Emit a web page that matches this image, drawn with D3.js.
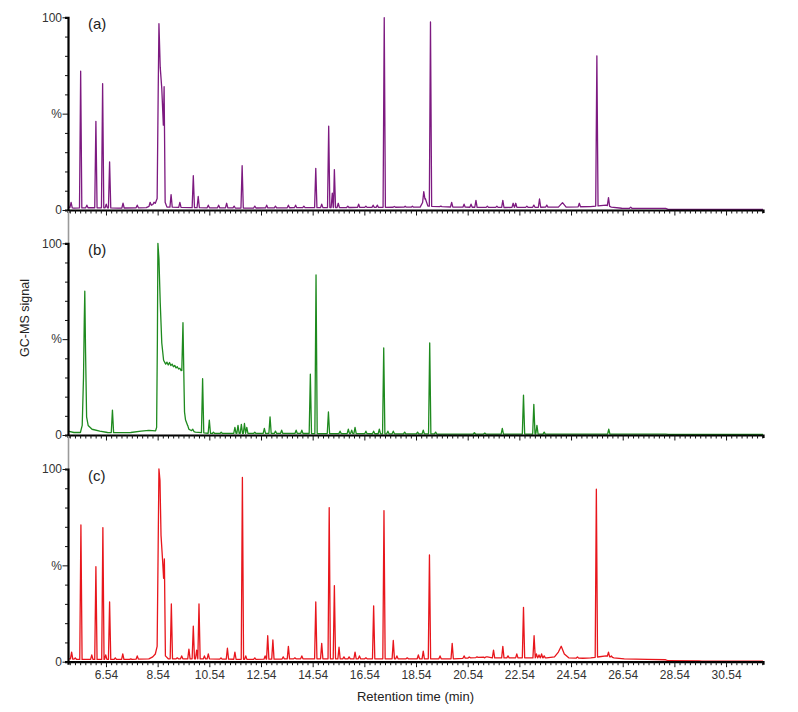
<!DOCTYPE html>
<html>
<head>
<meta charset="utf-8">
<script src="https://cdn.jsdelivr.net/npm/d3@7"></script>
<style>
  body { margin: 0; background: #fff; }
  text { font-family: "Liberation Sans", Arial, sans-serif; }
</style>
</head>
<body>
<div id="chart"></div>
<script>
// ---------------- DATA ----------------
const panelLabels = ["(a)", "(b)", "(c)"];
const seriesColors = ["#7d1a80", "#1e8a1e", "#e8161c"];
const xTickLabels = ["6.54","8.54","10.54","12.54","14.54","16.54","18.54","20.54","22.54","24.54","26.54","28.54","30.54"];
const yTickLabels = { 0: "0", 50: "%", 100: "100" };
const xAxisTitle = "Retention time (min)";
const yAxisTitle = "GC-MS signal";

// Baseline / broad-feature profiles, [time (min), relative signal %]
const profileA = [[5.07,1.5],[5.3,1],[6,1.2],[7,1],[8.1,1.2],[8.3,2.5],[8.45,3.5],[8.52,6],[8.56,60],[8.59,96.7],[8.64,74],[8.70,63],[8.76,44],[8.79,64],[8.83,4],[8.9,1.5],[10,1.2],[12,1],[14,1.2],[16,1.3],[18.7,1.5],[18.8,4],[18.9,6],[19.0,2],[20,1.5],[22,1.3],[24.05,1.5],[24.21,3.8],[24.35,1.5],[25.3,1.8],[25.9,2.5],[26.1,1.5],[26.5,0.9],[28.2,0.8],[28.3,0.3],[31.97,0.3]];
const peaksA = [[5.19,4],[5.56,72],[5.8,2.5],[6.15,46],[6.41,65.6],[6.55,3],[6.68,25],[7.2,3.5],[7.75,2.5],[8.25,4],[8.4,4],[9.06,8],[9.4,4],[9.92,17.8],[10.11,7],[10.5,2.5],[10.9,2.5],[11.21,3.5],[11.5,2],[11.81,23],[12.3,2],[12.76,2.5],[13.1,2],[13.6,2.5],[13.88,2.5],[14.2,2],[14.66,21.6],[14.89,3],[15.16,43.5],[15.3,8.8],[15.38,21],[15.53,3.5],[15.9,2],[16.32,3],[16.6,2],[16.88,2.5],[17.04,2.5],[17.31,99.8],[17.7,1.8],[18.12,2],[18.4,2],[18.84,9.5],[19.1,97.6],[19.5,2],[19.92,4],[20.4,3],[20.67,3],[20.86,5],[21.3,2],[21.67,2],[21.9,5],[22.3,3.5],[22.4,3.5],[22.83,2],[23.1,2.5],[23.32,5.7],[23.6,2.5],[24.86,3.5],[25.54,80],[25.99,6.4],[26.85,1.5]];

const profileB = [[5.07,2],[5.3,1.3],[5.55,1.3],[5.62,5],[5.67,30],[5.70,60],[5.72,75],[5.75,43],[5.79,9.5],[5.85,5],[6.0,3],[6.3,2],[6.6,1.3],[7.0,1.2],[7.5,1.3],[7.9,2],[8.2,2.4],[8.46,2.2],[8.50,4],[8.53,50],[8.55,100],[8.59,92],[8.64,69],[8.70,48],[8.77,39],[8.85,37],[8.9,38],[8.95,36.5],[9.0,37.8],[9.05,36.2],[9.1,37],[9.15,35.6],[9.2,36.3],[9.25,35],[9.3,35.6],[9.35,34.4],[9.4,34.8],[9.45,33.6],[9.5,33.8],[9.55,33],[9.58,12],[9.62,7.8],[9.7,5],[9.8,2.6],[10.0,1.5],[10.6,0.8],[12,0.8],[14,0.8],[16,0.7],[18,0.6],[20,0.5],[23,0.5],[26.5,0.5],[28.2,0.5],[28.3,0.3],[31.97,0.3]];
const peaksB = [[6.79,13],[9.52,58.6],[9.75,3],[9.9,3],[10.28,29.4],[10.54,7.8],[10.7,1.5],[11.0,1.5],[11.53,4],[11.65,5],[11.78,5.5],[11.9,6],[11.99,4],[12.3,1.5],[12.67,3.5],[12.89,9.5],[13.1,2],[13.34,2.5],[13.9,2.5],[14.12,2.5],[14.45,31.7],[14.67,83.5],[15.15,12],[15.6,2],[15.92,3],[16.05,2.5],[16.18,4],[16.6,2],[16.9,2],[17.12,3],[17.29,45.4],[17.45,2],[17.66,2],[18.1,1.5],[18.6,1.5],[18.82,2.5],[19.07,48],[19.3,1.5],[20.8,1.2],[21.2,1],[21.88,3.5],[22.7,20.8],[23.1,16],[23.22,5],[23.5,1.5],[26.0,3]];

const profileC = [[5.07,1.5],[5.5,1.2],[6.5,1.2],[7.5,1.2],[8.2,1.5],[8.35,2.5],[8.45,4],[8.52,8],[8.56,60],[8.59,100],[8.63,94],[8.67,65.7],[8.73,52.8],[8.77,43.3],[8.80,53.3],[8.84,3],[8.95,1.5],[10,1.5],[12,1.2],[14,1.5],[16,1.5],[18,1.5],[20,1.5],[21.3,2.5],[21.5,2],[22,2],[23.6,2],[23.9,2.5],[24.05,5],[24.16,8],[24.28,4],[24.45,2],[25,1.8],[25.3,2],[25.9,3],[26.2,2],[26.6,1.5],[27.5,1.2],[28.2,1],[28.3,0.5],[29.5,0.4],[29.6,0.3],[31.97,0.3]];
const peaksC = [[5.21,5],[5.35,2],[5.57,71],[5.99,3.5],[6.15,49.3],[6.42,69.6],[6.53,3.5],[6.68,31],[6.9,2],[7.19,4],[7.5,1.5],[7.75,3],[9.07,30],[9.3,2],[9.47,3],[9.75,6.5],[9.92,18.5],[10.05,6],[10.14,30],[10.35,3],[10.5,4],[10.99,2],[11.24,7],[11.53,5],[11.82,95.7],[11.95,3],[12.3,2],[12.7,3],[12.8,13.5],[13.0,11.3],[13.4,2.5],[13.6,8],[13.85,2],[14.12,3],[14.66,31],[14.89,9.5],[15.18,80],[15.38,39.5],[15.56,7.5],[15.75,2.5],[15.95,2.5],[16.18,5],[16.35,3],[16.6,2],[16.9,29],[17.3,78.4],[17.66,11],[17.8,3],[18.2,2],[18.63,3.5],[18.82,5.5],[19.06,55.4],[19.47,3],[19.94,9.5],[20.4,3],[20.6,2.5],[20.9,2.5],[21.2,2],[21.54,6],[21.9,8],[22.1,3],[22.44,4],[22.7,28.2],[23.11,13.5],[23.2,4],[23.3,3.5],[23.4,4],[23.5,3],[24.79,2.5],[25.52,89.5],[25.99,5],[26.1,3]];

const profiles = [profileA, profileB, profileC];
const peakLists = [peaksA, peaksB, peaksC];

// ---------------- LAYOUT ----------------
const W = 798, H = 712;
const xLeft = 68, xRight = 763;
const panels = [
  { y0: 210, y100: 17.3 },
  { y0: 435, y100: 243.3 },
  { y0: 661.7, y100: 469 }
];
const peakHalfWidth = 0.045;

const svg = d3.select("#chart").append("svg")
  .attr("width", W).attr("height", H)
  .style("display", "block");

const x = d3.scaleLinear().domain([5.07, 31.97]).range([xLeft, xRight]);

const xTicks = d3.range(0, 200).map(i => +(5.14 + i * 0.2).toFixed(2)).filter(t => t <= 31.96);
const isMajor = t => xTickLabels.includes(t.toFixed(2));

function buildTrace(profile, peaks, w) {
  const interp = t => {
    for (let i = 0; i < profile.length - 1; i++) {
      const a = profile[i], b = profile[i + 1];
      if (t >= a[0] && t <= b[0]) return a[1] + (b[1] - a[1]) * (t - a[0]) / (b[0] - a[0]);
    }
    return profile[profile.length - 1][1];
  };
  const pts = profile.filter(p => !peaks.some(k => p[0] > k[0] - w && p[0] < k[0] + w)).map(p => p.slice());
  peaks.forEach(k => {
    pts.push([k[0] - w, interp(k[0] - w)], [k[0], k[1]], [k[0] + w, interp(k[0] + w)]);
  });
  pts.sort((a, b) => a[0] - b[0]);
  return pts;
}

panels.forEach((p, i) => {
  const y = d3.scaleLinear().domain([0, 100]).range([p.y0, p.y100]);
  const g = svg.append("g");

  // connector (grey) line from previous panel's axis
  if (i > 0) {
    g.append("line")
      .attr("x1", xLeft + 0.5).attr("x2", xLeft + 0.5)
      .attr("y1", panels[i - 1].y0 + 1).attr("y2", p.y100)
      .attr("stroke", "#9a9a9a").attr("stroke-width", 1.6);
  }

  // trace
  const data = buildTrace(profiles[i], peakLists[i], peakHalfWidth);
  g.append("path")
    .datum(data)
    .attr("fill", "none")
    .attr("stroke", seriesColors[i])
    .attr("stroke-width", 1.3)
    .attr("stroke-linejoin", "round")
    .attr("d", d3.line().x(d => x(d[0])).y(d => y(d[1])));

  // x axis
  const xa = d3.axisBottom(x)
    .tickValues(xTicks)
    .tickSizeOuter(0)
    .tickSize(3)
    .tickPadding(4)
    .tickFormat(t => (i === 2 && isMajor(t)) ? t.toFixed(2) : "");
  const gx = g.append("g").attr("transform", `translate(0,${p.y0})`).call(xa);
  gx.select(".domain").attr("stroke", "#000").attr("stroke-width", 2.2);
  gx.selectAll(".tick line").attr("stroke", "#111").attr("stroke-width", 1)
    .attr("y2", t => isMajor(t) ? 5.5 : 3.5);
  gx.selectAll(".tick text").attr("font-size", "12px").attr("fill", "#333").attr("y", 9);

  // y axis
  const ya = d3.axisLeft(y)
    .tickValues(d3.range(0, 101, 10))
    .tickSizeOuter(0)
    .tickSize(3)
    .tickPadding(1)
    .tickFormat(v => yTickLabels[v] !== undefined ? yTickLabels[v] : "");
  const gy = g.append("g").attr("transform", `translate(${xLeft},0)`).call(ya);
  gy.select(".domain").attr("stroke", "#000").attr("stroke-width", 2.2);
  gy.selectAll(".tick line").attr("stroke", "#111").attr("stroke-width", 1)
    .attr("x2", v => (v % 50 === 0) ? -5.5 : -3);
  gy.selectAll(".tick text").attr("font-size", "12px").attr("fill", "#333").attr("x", -6);

  // panel label
  g.append("text")
    .attr("x", xLeft + 20).attr("y", p.y100 + 12)
    .attr("font-size", "15px").attr("fill", "#222")
    .text(panelLabels[i]);
});

// axis titles
svg.append("text")
  .attr("x", 415.5).attr("y", 701)
  .attr("text-anchor", "middle")
  .attr("font-size", "13px").attr("fill", "#222")
  .text(xAxisTitle);

svg.append("text")
  .attr("transform", "translate(29,318) rotate(-90)")
  .attr("text-anchor", "middle")
  .attr("font-size", "12.5px").attr("fill", "#222")
  .text(yAxisTitle);
</script>
</body>
</html>
